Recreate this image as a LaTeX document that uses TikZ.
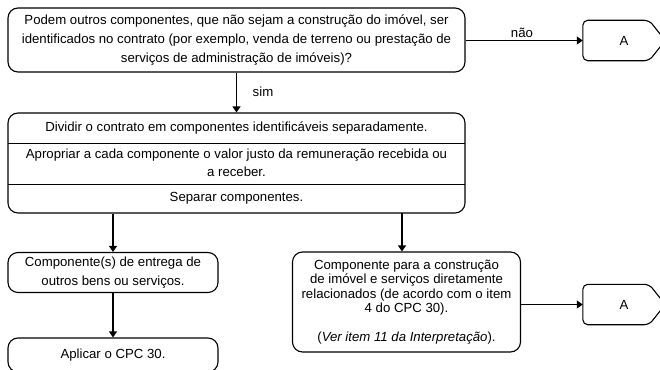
\documentclass[tikz,border=0pt]{standalone}
\usepackage{fontspec}
\setmainfont{Liberation Sans}
\usetikzlibrary{arrows.meta,calc}
\begin{document}
\begin{tikzpicture}[x=1pt,y=-1pt,
  box/.style={draw,line width=1.1pt,rounded corners=10pt,align=center,inner sep=0pt},
  arr/.style={line width=1.1pt,-{Triangle[length=6pt,width=8pt]}},
  txt/.style={font=\fontsize{13.2}{14.5}\selectfont,inner sep=0pt,align=center},
  wide/.style={font=\fontsize{13.2}{19}\selectfont},
  offpage/.style={line width=1.1pt,rounded corners=5pt}
]
\useasboundingbox (0,0) rectangle (660,369);

% top question
\node[box,wide,minimum width=457pt,minimum height=64pt] (q) at (236.5,40)
  {Podem outros componentes, que não sejam a construção do imóvel, ser\\
   identificados no contrato (por exemplo, venda de terreno ou prestação de\\
   serviços de administração de imóveis)?};

% A connector top
\node[minimum width=82pt,minimum height=40pt,inner sep=0pt] (a1) at (624,40.5) {};
\draw[offpage] (a1.west) -- (a1.north west) -- ($(a1.north east)+(-16,0)$) -- (a1.east)
  -- ($(a1.south east)+(-16,0)$) -- (a1.south west) -- cycle;
\node[txt] (a1t) at (a1) {A};
\draw[arr] (q.east |- a1) -- (a1.west);
\node[txt] (nao) at (522,33) {não};

% middle split box
\node[box,minimum width=457pt,minimum height=100pt] (mid) at (236.5,163) {};
\coordinate (d1l) at (8,143);
\coordinate (d1r) at (465,143);
\coordinate (d2l) at (8,184);
\coordinate (d2r) at (465,184);
\draw[line width=1pt] (d1l) -- (d1r);
\draw[line width=1pt] (d2l) -- (d2r);
\node[txt] (t1) at (236.5,128) {Dividir o contrato em componentes identificáveis separadamente.};
\node[txt,font=\fontsize{13.2}{18}\selectfont] (t2) at (236.5,163)
  {Apropriar a cada componente o valor justo da remuneração recebida ou\\a receber.};
\node[txt] (t3) at (236.5,198.5) {Separar componentes.};

\draw[arr] (q) -- (mid);
\node[txt] (sim) at (263,92) {sim};

% left branch
\node[box,wide,minimum width=210pt,minimum height=40pt] (b1) at (113,272.5)
  {Componente(s) de entrega de\\outros bens ou serviços.};
\draw[arr] (mid.south -| b1) -- (b1.north);
\node[box,font=\fontsize{13.2}{14.5}\selectfont,minimum width=210pt,minimum height=34pt] (b2) at (113,355)
  {Aplicar o CPC 30.};
\draw[arr] (b1) -- (b2);

% right branch
\node[box,font=\fontsize{13.2}{14.5}\selectfont,minimum width=228pt,minimum height=100pt] (rb) at (406.5,302)
  {Componente para a construção\\
   de imóvel e serviços diretamente\\
   relacionados (de acordo com o item\\
   4 do CPC 30).\\[14.5pt]
   (\textit{Ver item 11 da Interpretação}).};
\coordinate (c2) at (402,213);
\draw[arr] (c2) -- (c2 |- rb.north);

\node[minimum width=82pt,minimum height=40pt,inner sep=0pt] (a2) at (624,304.5) {};
\draw[offpage] (a2.west) -- (a2.north west) -- ($(a2.north east)+(-16,0)$) -- (a2.east)
  -- ($(a2.south east)+(-16,0)$) -- (a2.south west) -- cycle;
\node[txt] (a2t) at (a2) {A};
\draw[arr] (rb.east |- a2) -- (a2.west);
\end{tikzpicture}
\end{document}
